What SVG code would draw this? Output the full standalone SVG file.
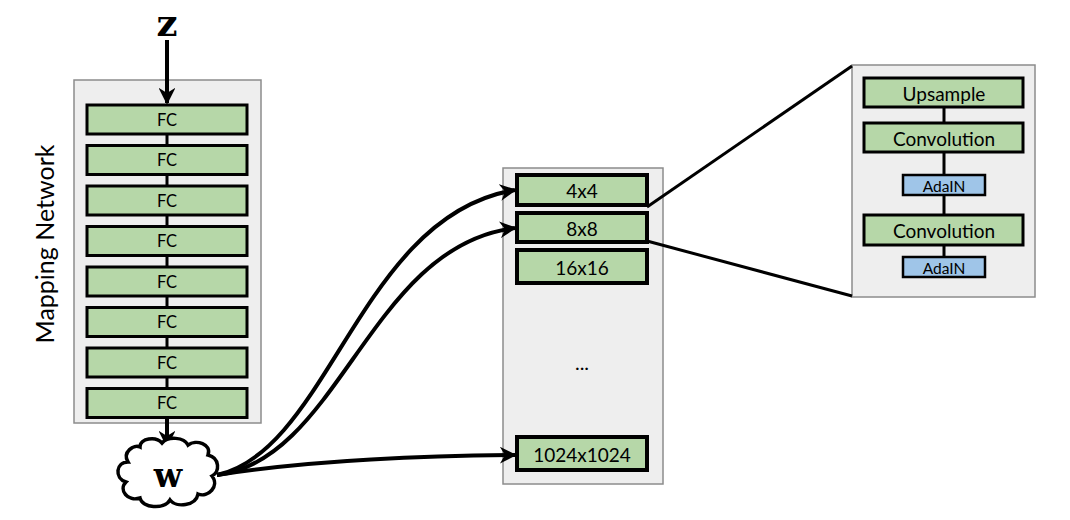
<svg xmlns="http://www.w3.org/2000/svg" width="1070" height="520" viewBox="0 0 1070 520">
<defs>
<marker id="ah" viewBox="0 0 10 10" refX="9" refY="5" markerWidth="4.2" markerHeight="4.2" orient="auto" markerUnits="strokeWidth">
<path d="M0,0 L10,5 L0,10 L3,5 z" fill="#000"/>
</marker>
<style>
.panel{fill:#eeeeee;stroke:#8c8c8c;stroke-width:1.5}
.g{fill:#b6d7a8;stroke:#000;stroke-width:3}
.g2{fill:#b6d7a8;stroke:#000;stroke-width:4}
.b{fill:#9fc5e8;stroke:#000;stroke-width:2.5}
.t{font-family:Lato,"Liberation Sans",sans-serif;fill:#000;text-anchor:middle;dominant-baseline:central}
.link{fill:none;stroke:#000;stroke-width:3}
.arr{fill:none;stroke:#000;stroke-width:4}
.sym{font-family:"DejaVu Serif","Liberation Serif",serif;font-weight:bold;text-anchor:middle;fill:#000}
</style>
</defs>
<rect width="1070" height="520" fill="#fff"/>

<g id="mapping-network">
<rect class="panel" x="74" y="80" width="187" height="343"/>
<text class="t" x="0" y="0" font-size="25" transform="translate(44,244) rotate(-90)">Mapping Network</text>
</g>
<g id="synthesis">
<rect class="panel" x="503" y="168" width="160" height="316"/>
<text class="t" x="582" y="362" font-size="20">...</text>
</g>
<g id="block">
<rect class="panel" x="852" y="65" width="183" height="232"/>
</g>

<g id="connectors">
<line class="link" x1="167" y1="134" x2="167" y2="388"/>
<line class="link" x1="944" y1="107" x2="944" y2="267"/>
<line class="arr" x1="167" y1="40" x2="167" y2="103" marker-end="url(#ah)"/>
<line class="arr" x1="167" y1="419" x2="167" y2="446" marker-end="url(#ah)"/>
<path class="arr" d="M217,475 C330,450 360,215 515,190" marker-end="url(#ah)"/>
<path class="arr" d="M217,475 C340,460 370,245 515,228" marker-end="url(#ah)"/>
<path class="arr" d="M217,475 C300,462 400,456 515,455" marker-end="url(#ah)"/>
<line class="link" x1="647" y1="207" x2="852" y2="66"/>
<line class="link" x1="647" y1="241" x2="852" y2="296"/>
</g>

<g id="z"><text class="sym" x="167" y="36" font-size="37">z</text></g>

<g id="fc1"><rect class="g" x="87" y="105" width="160" height="29"/><text class="t" x="167" y="119.5" font-size="16.5">FC</text></g>
<g id="fc2"><rect class="g" x="87" y="145.5" width="160" height="29"/><text class="t" x="167" y="160" font-size="16.5">FC</text></g>
<g id="fc3"><rect class="g" x="87" y="186" width="160" height="29"/><text class="t" x="167" y="200.5" font-size="16.5">FC</text></g>
<g id="fc4"><rect class="g" x="87" y="226.5" width="160" height="29"/><text class="t" x="167" y="241" font-size="16.5">FC</text></g>
<g id="fc5"><rect class="g" x="87" y="267" width="160" height="29"/><text class="t" x="167" y="281.5" font-size="16.5">FC</text></g>
<g id="fc6"><rect class="g" x="87" y="307.5" width="160" height="29"/><text class="t" x="167" y="322" font-size="16.5">FC</text></g>
<g id="fc7"><rect class="g" x="87" y="348" width="160" height="29"/><text class="t" x="167" y="362.5" font-size="16.5">FC</text></g>
<g id="fc8"><rect class="g" x="87" y="388.5" width="160" height="29"/><text class="t" x="167" y="403" font-size="16.5">FC</text></g>

<g id="w">
<path d="M140,447 C140,438 156,436 162,443 C168,436 184,437 188,445 C196,439 212,444 208,455 C220,458 220,472 212,476 C220,486 208,498 198,494 C196,506 176,508 170,500 C164,510 142,508 140,498 C128,502 118,490 126,482 C114,478 116,462 128,462 C122,452 134,444 140,447 Z" fill="#fff" stroke="#000" stroke-width="3.5"/>
<text class="sym" x="168" y="487" font-size="33">w</text>
</g>

<g id="r4"><rect class="g2" x="517" y="175" width="130" height="30"/><text class="t" x="582" y="190" font-size="19">4x4</text></g>
<g id="r8"><rect class="g2" x="517" y="213" width="130" height="29"/><text class="t" x="582" y="228" font-size="19">8x8</text></g>
<g id="r16"><rect class="g2" x="517" y="250" width="130" height="33"/><text class="t" x="582" y="267" font-size="19">16x16</text></g>
<g id="r1024"><rect class="g2" x="517" y="437" width="130" height="33"/><text class="t" x="582" y="454" font-size="19">1024x1024</text></g>

<g id="upsample"><rect class="g" x="864" y="78" width="159" height="29"/><text class="t" x="944" y="93" font-size="19">Upsample</text></g>
<g id="conv1"><rect class="g" x="864" y="123" width="159" height="29"/><text class="t" x="944" y="138" font-size="19">Convolution</text></g>
<g id="adain1"><rect class="b" x="903" y="175" width="82" height="20"/><text class="t" x="944" y="185.5" font-size="15.5">AdaIN</text></g>
<g id="conv2"><rect class="g" x="864" y="215" width="159" height="30"/><text class="t" x="944" y="230" font-size="19">Convolution</text></g>
<g id="adain2"><rect class="b" x="903" y="257" width="82" height="20"/><text class="t" x="944" y="267.5" font-size="15.5">AdaIN</text></g>
</svg>
